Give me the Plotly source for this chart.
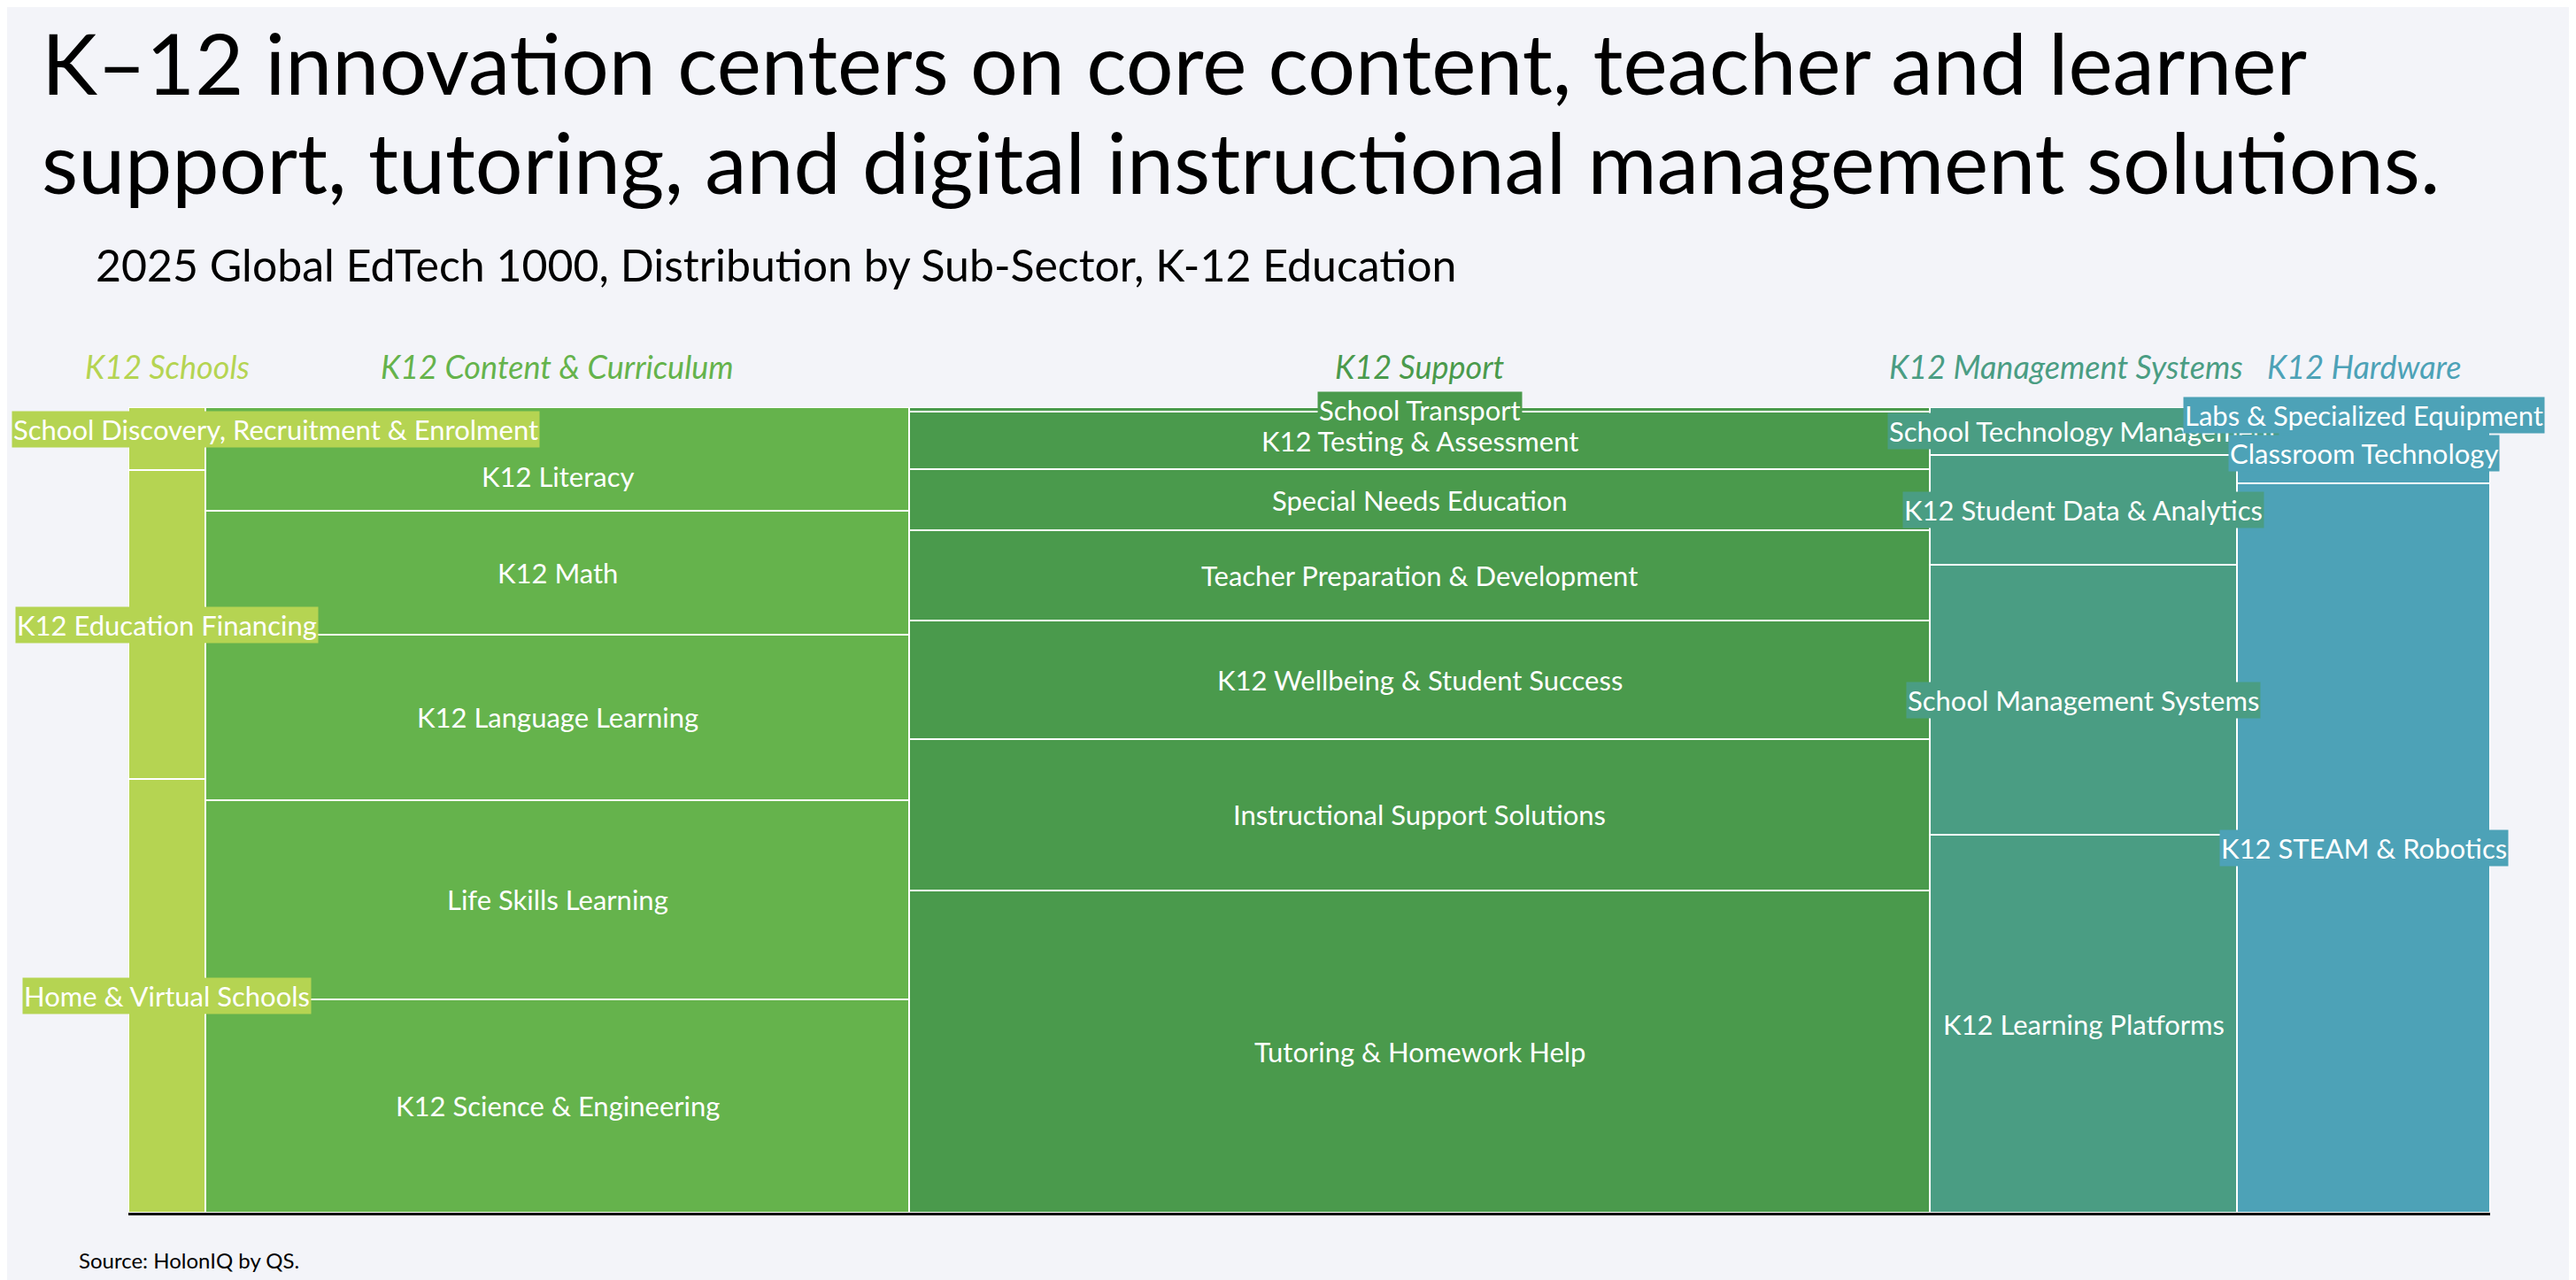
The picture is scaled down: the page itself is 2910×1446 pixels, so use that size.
import plotly.graph_objects as go

# ---------------- data ----------------
columns = ["K12 Schools", "K12 Content & Curriculum", "K12 Support",
           "K12 Management Systems", "K12 Hardware"]
column_share = [3.26, 29.8, 43.2, 13.0, 10.7]  # % of K-12 companies (column widths)

schools_subs = ["School Discovery, Recruitment & Enrolment", "K12 Education Financing",
                "Home & Virtual Schools"]
schools_pct = [7.8, 38.4, 53.8]

content_subs = ["K12 Literacy", "K12 Math", "K12 Language Learning",
                "Life Skills Learning", "K12 Science & Engineering"]
content_pct = [12.9, 15.3, 20.6, 24.7, 26.5]

support_subs = ["School Transport", "K12 Testing & Assessment", "Special Needs Education",
                "Teacher Preparation & Development", "K12 Wellbeing & Student Success",
                "Instructional Support Solutions", "Tutoring & Homework Help"]
support_pct = [0.6, 7.1, 7.6, 11.2, 14.7, 18.8, 40.0]

mgmt_subs = ["School Technology Management", "K12 Student Data & Analytics",
             "School Management Systems", "K12 Learning Platforms"]
mgmt_pct = [5.9, 13.7, 33.5, 46.9]

hardware_subs = ["Labs & Specialized Equipment", "Classroom Technology", "K12 STEAM & Robotics"]
hardware_pct = [2.0, 7.5, 90.5]

title_lines = ["K–12 innovation centers on core content, teacher and learner",
               "support, tutoring, and digital instructional management solutions."]
subtitle = "2025 Global EdTech 1000, Distribution by Sub-Sector, K-12 Education"
source = "Source: HolonIQ by QS."

# ---------------- styling ----------------
colors = ["#B5D452", "#65B34C", "#4A9A4C", "#4A9D83", "#4DA2B7"]
BG = "#F3F4F9"
FONT = "Lato"
W, H = 2910, 1446
OFF = 8  # page body margin
ML, MR, MT, MB = 145 - OFF, 97 + OFF, 460 - OFF, 76 + OFF
plot_w = W - ML - MR
plot_h = H - MT - MB
LABEL_SIZE = 31
label_yshift = {"K12 Literacy": -19}  # label nudged to avoid the wide neighbour label


def px_x(p):
    """absolute page pixel -> paper x"""
    return (p - OFF - ML) / plot_w


def px_y(p):
    """absolute page pixel -> paper y"""
    return 1 + (MT - (p - OFF)) / plot_h


subs_all = [schools_subs, content_subs, support_subs, mgmt_subs, hardware_subs]
pct_all = [schools_pct, content_pct, support_pct, mgmt_pct, hardware_pct]

xmax = sum(column_share)
fig = go.Figure()
annotations = []

left = 0.0
for ci, (col, share) in enumerate(zip(columns, column_share)):
    center = left + share / 2
    col_px = share / xmax * plot_w
    base = 0.0
    for name, pct in zip(subs_all[ci], pct_all[ci]):
        fig.add_trace(go.Bar(
            x=[center], y=[pct], base=[base], width=[share],
            marker=dict(color=colors[ci], line=dict(color="white", width=2)),
            name=name, showlegend=False,
            hovertemplate=f"{col}<br>{name}<br>{pct}%<extra></extra>",
        ))
        seg_px = pct / 100 * plot_h
        text_px = len(name) * 0.47 * LABEL_SIZE
        boxed = text_px > col_px - 10 or seg_px < LABEL_SIZE * 1.1
        ann = dict(
            x=center, y=base + pct / 2, xref="x", yref="y",
            text=name, showarrow=False,
            font=dict(family=FONT, size=LABEL_SIZE, color="white"),
            xanchor="center", yanchor="middle",
            yshift=label_yshift.get(name, 0),
        )
        if boxed:
            ann["bgcolor"] = colors[ci]
            ann["borderpad"] = 1
        # keep labels inside the page on the left edge
        left_px = ML + center / xmax * plot_w - text_px / 2
        if left_px < 10:
            ann["xanchor"] = "left"
            ann["xref"] = "paper"
            ann["x"] = px_x(13)
            ann["yshift"] = 10
        annotations.append(ann)
        base += pct
    # column header
    annotations.append(dict(
        x=center, y=px_y(414), xref="x", yref="paper",
        text=f"<i>{col}</i>", showarrow=False,
        font=dict(family=FONT, size=36, color=colors[ci]),
        xanchor="center", yanchor="middle",
        xshift=-20 if ci == 3 else 0,
    ))
    left += share

# title (one annotation per line), subtitle, source
for li, (line, ypx) in enumerate(zip(title_lines, [70, 182])):
    annotations.append(dict(
        x=px_x(45), y=px_y(ypx), xref="paper", yref="paper",
        text=line, showarrow=False, align="left", xanchor="left", yanchor="middle",
        font=dict(family=FONT, size=95, color="black"),
    ))
annotations.append(dict(
    x=px_x(106), y=px_y(299), xref="paper", yref="paper",
    text=subtitle, showarrow=False, xanchor="left", yanchor="middle",
    font=dict(family=FONT, size=50, color="black"),
))
annotations.append(dict(
    x=px_x(87), y=px_y(1423), xref="paper", yref="paper",
    text=source, showarrow=False, xanchor="left", yanchor="middle",
    font=dict(family=FONT, size=24, color="black"),
))

fig.update_layout(
    width=W, height=H, autosize=False,
    margin=dict(l=ML, r=MR, t=MT, b=MB, pad=0),
    paper_bgcolor=BG, plot_bgcolor=BG,
    barmode="overlay", bargap=0,
    annotations=annotations,
    xaxis=dict(range=[0, xmax], showgrid=False, zeroline=False, showticklabels=False,
               ticks="", showline=True, linecolor="black", linewidth=3, fixedrange=True),
    yaxis=dict(range=[100, 0], showgrid=False, zeroline=False, showticklabels=False,
               ticks="", showline=False, fixedrange=True),
)

fig.write_html("out.html")
